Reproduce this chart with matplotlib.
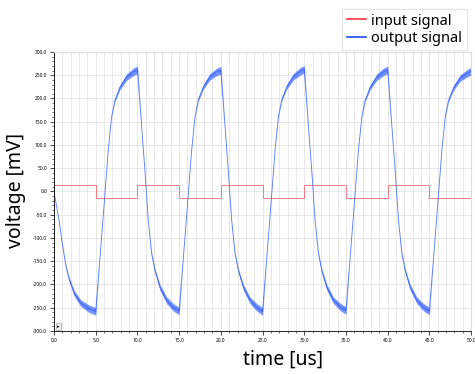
import numpy as np
import matplotlib
matplotlib.use("Agg")
import matplotlib.pyplot as plt
from matplotlib.ticker import MultipleLocator, FormatStrFormatter

# входной сигнал (меандр), мВ
in_t = [0, 5, 10, 15, 20, 25, 30, 35, 40, 45, 50]
in_v = [15, -15, 15, -15, 15, -15, 15, -15, 15, -15, -15]

# выходной сигнал, мВ
out_t = [0.0, 0.6, 1.0, 1.4, 1.8, 2.4, 3.2, 4.2, 5.0,
         5.5, 6.0, 6.5, 6.9, 7.3, 7.9, 8.7, 9.5, 10.0,
         10.5, 10.9, 11.3, 11.7, 12.1, 12.7, 13.5, 14.3, 15.0,
         15.5, 16.0, 16.5, 16.9, 17.3, 17.9, 18.7, 19.5, 20.0,
         20.5, 20.9, 21.3, 21.7, 22.1, 22.7, 23.5, 24.3, 25.0,
         25.5, 26.0, 26.5, 26.9, 27.3, 27.9, 28.7, 29.5, 30.0,
         30.5, 30.9, 31.3, 31.7, 32.1, 32.7, 33.5, 34.3, 35.0,
         35.5, 36.0, 36.5, 36.9, 37.3, 37.9, 38.7, 39.5, 40.0,
         40.5, 40.9, 41.3, 41.7, 42.1, 42.7, 43.5, 44.3, 45.0,
         45.5, 46.0, 46.5, 46.9, 47.3, 47.9, 48.7, 49.5, 50.0]
out_v = [0, -62, -113, -158, -188, -218, -240, -252, -258,
         -145, -30, 88, 160, 196, 224, 246, 257, 262,
         142, 45, -62, -133, -170, -206, -234, -249, -257,
         -144, -29, 88, 160, 197, 225, 247, 257, 261,
         141, 44, -62, -133, -170, -206, -234, -249, -258,
         -145, -30, 88, 161, 197, 225, 247, 258, 263,
         142, 45, -62, -133, -170, -206, -234, -248, -256,
         -143, -28, 89, 160, 196, 224, 246, 257, 262,
         142, 45, -62, -133, -170, -206, -234, -249, -257,
         -144, -29, 88, 160, 196, 223, 244, 254, 259]
# полуширина "шумовой" полосы, мВ
out_r = [0, 0, 1, 2, 4, 6, 7, 8, 8,
         0, 0, 0, 1, 3, 5, 7, 8, 8,
         0, 0, 1, 2, 4, 6, 7, 8, 8,
         0, 0, 0, 1, 3, 5, 7, 8, 8,
         0, 0, 1, 2, 4, 6, 7, 8, 8,
         0, 0, 0, 1, 3, 5, 7, 8, 8,
         0, 0, 1, 2, 4, 6, 7, 8, 8,
         0, 0, 0, 1, 3, 5, 7, 8, 8,
         0, 0, 1, 2, 4, 6, 7, 8, 8,
         0, 0, 0, 1, 3, 5, 7, 8, 8]

red = '#ff3040'
blue = '#1a4cff'

plt.rcParams['font.family'] = ['Noto Sans', 'DejaVu Sans']

fig = plt.figure(figsize=(4.75, 3.74), dpi=100)
ax = fig.add_axes([0.1137, 0.115, 0.878, 0.746])

v = np.array(out_v)
r = np.array(out_r)
ax.fill_between(out_t, v - r, v + r, color=blue, alpha=0.6, linewidth=0)
ax.plot(out_t, out_v, color=blue, linewidth=0.6, alpha=0.75,
        label='output signal')
ax.plot(in_t, in_v, color=red, linewidth=0.7, drawstyle='steps-post',
        label='input signal', alpha=0.6)

ax.set_xlim(0, 50)
ax.set_ylim(-300, 300)
ax.xaxis.set_major_locator(MultipleLocator(5))
ax.xaxis.set_minor_locator(MultipleLocator(1))
ax.yaxis.set_major_locator(MultipleLocator(50))
ax.yaxis.set_minor_locator(MultipleLocator(10))
ax.xaxis.set_major_formatter(FormatStrFormatter('%.1f'))
ax.yaxis.set_major_formatter(FormatStrFormatter('%.1f'))
ax.tick_params(which='major', labelsize=3.5, length=3, width=0.5, pad=2)
ax.tick_params(which='minor', length=1.5, width=0.4)

ax.grid(True, which='minor', axis='x', color='#e4e4e4', linewidth=0.6)
ax.grid(True, which='major', axis='both', color='#e4e4e4', linewidth=0.6)
ax.set_axisbelow(True)
for s in ['top', 'right']:
    ax.spines[s].set_color('#dddddd')
for s in ['left', 'bottom']:
    ax.spines[s].set_linewidth(0.6)

ax.set_ylabel('voltage [mV]', fontsize=14)
ax.yaxis.set_label_coords(-0.068, 0.505)
ax.set_xlabel('time [us]', fontsize=14)
ax.xaxis.set_label_coords(0.55, -0.068)

ax.text(0.008, 0.012, '▸', transform=ax.transAxes, fontsize=3.5,
        family='DejaVu Sans',
        bbox=dict(boxstyle='square,pad=0.2', fc='#eeeeee', ec='#999999', lw=0.4))

h, l = ax.get_legend_handles_labels()
leg = fig.legend([h[1], h[0]], [l[1], l[0]], loc='upper right',
                 bbox_to_anchor=(0.998, 0.995), fontsize=10.5, fancybox=False,
                 handlelength=1.3, handletextpad=0.4, borderpad=0.3,
                 labelspacing=0.15)
leg.get_frame().set_edgecolor('#dddddd')
leg.get_frame().set_linewidth(0.8)
for line in leg.get_lines():
    line.set_alpha(1)
    line.set_linewidth(1.2)

fig.savefig('out.png', dpi=100)
